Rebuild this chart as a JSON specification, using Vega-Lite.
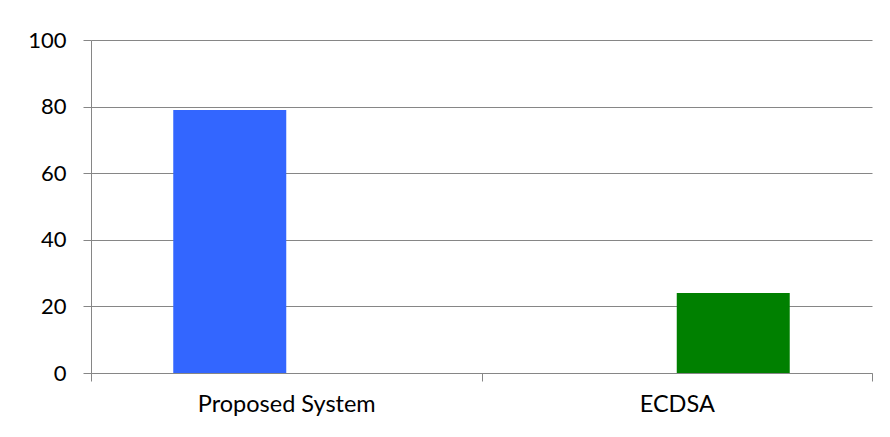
{
  "$schema": "https://vega.github.io/schema/vega-lite/v6.json",
  "width": 781,
  "height": 333,
  "autosize": "none",
  "padding": {"left": 91, "top": 40, "right": 18, "bottom": 64},
  "background": "white",
  "data": {
    "values": [
      {"category": "Proposed System", "series": "Proposed System", "value": 79},
      {"category": "ECDSA", "series": "ECDSA", "value": 24}
    ]
  },
  "mark": {"type": "bar"},
  "encoding": {
    "x": {
      "field": "category",
      "type": "nominal",
      "sort": ["Proposed System", "ECDSA"],
      "scale": {"paddingInner": 0, "paddingOuter": 0},
      "axis": {
        "title": null,
        "labelAngle": 0,
        "tickBand": "extent",
        "tickSize": 8,
        "tickColor": "#868686",
        "domainColor": "#868686",
        "labelPadding": 11,
        "labelFont": "Lato",
        "labelFontSize": 23.5,
        "labelColor": "#000000",
        "grid": false
      }
    },
    "xOffset": {
      "field": "series",
      "sort": ["Proposed System", "ECDSA"],
      "scale": {"paddingInner": 0, "paddingOuter": 0.728}
    },
    "y": {
      "field": "value",
      "type": "quantitative",
      "scale": {"domain": [0, 100], "nice": false},
      "axis": {
        "title": null,
        "values": [0, 20, 40, 60, 80, 100],
        "tickSize": 8,
        "tickColor": "#868686",
        "domainColor": "#868686",
        "gridColor": "#868686",
        "grid": true,
        "labelPadding": 17,
        "labelFont": "Lato",
        "labelFontSize": 22,
        "labelColor": "#000000"
      }
    },
    "color": {
      "field": "series",
      "type": "nominal",
      "scale": {"domain": ["Proposed System", "ECDSA"], "range": ["#3366FF", "#008000"]},
      "legend": null
    }
  },
  "config": {"view": {"stroke": null}}
}
